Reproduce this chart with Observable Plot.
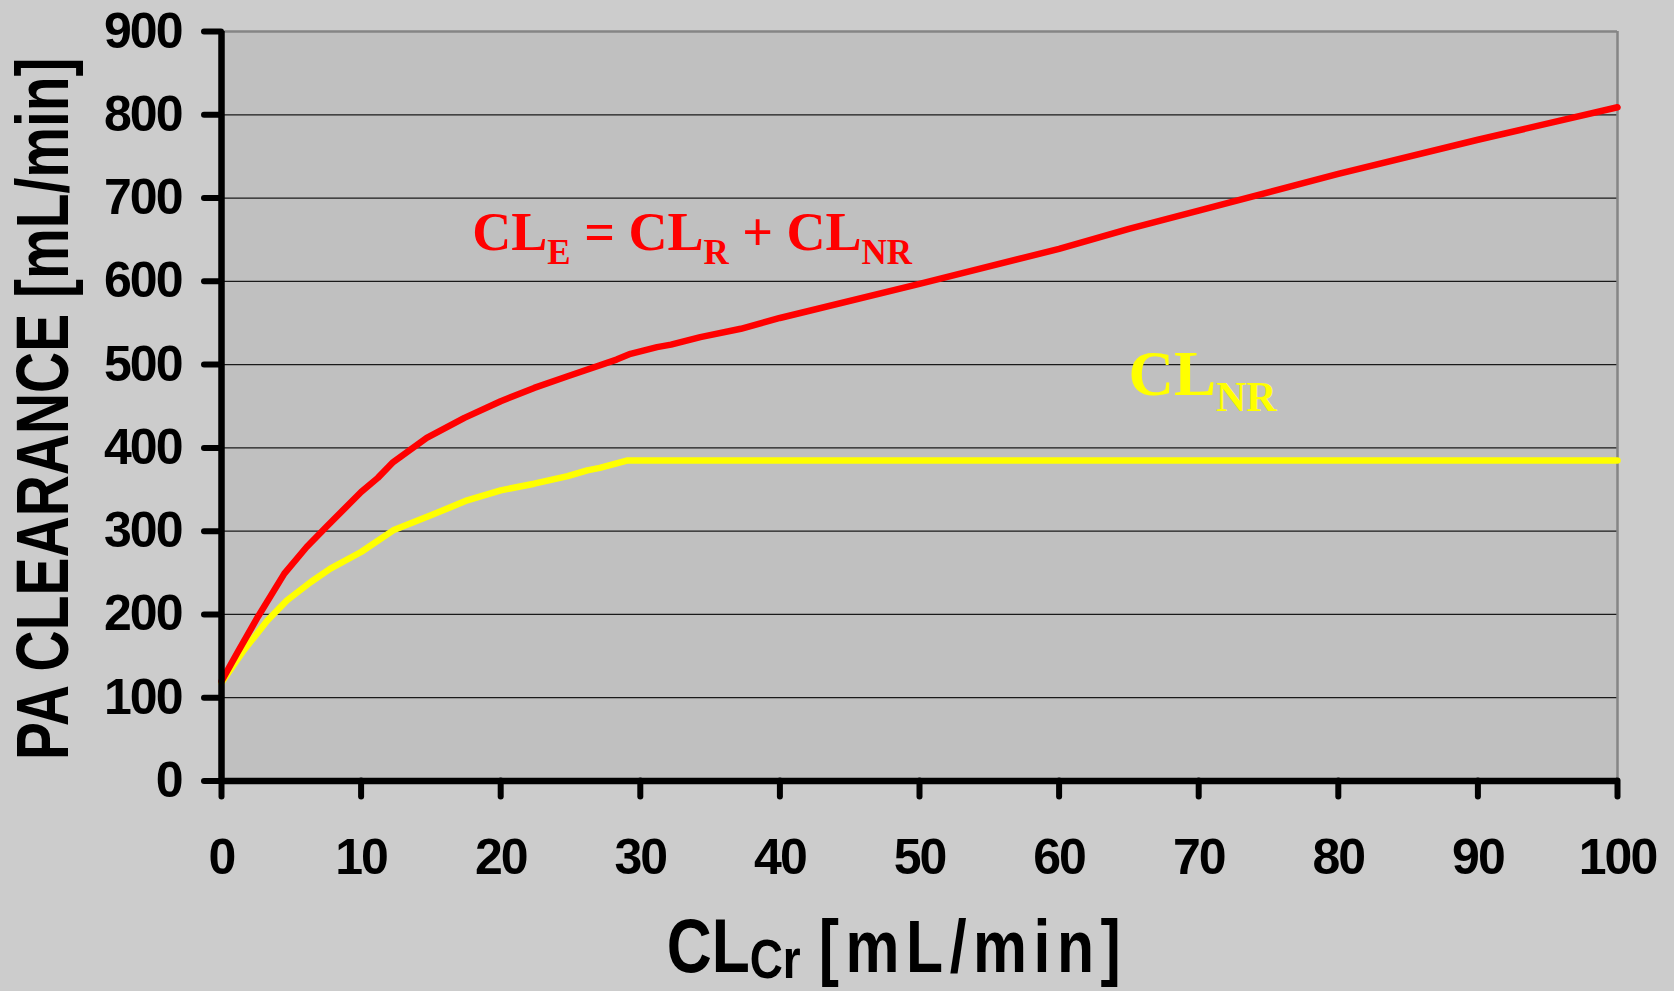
<!DOCTYPE html>
<html>
<head>
<meta charset="utf-8">
<script src="https://cdn.jsdelivr.net/npm/d3@7"></script>
<script src="https://cdn.jsdelivr.net/npm/@observablehq/plot@0.6"></script>
<style>
  html, body { margin: 0; padding: 0; background: #cccccc; overflow: hidden; }
  #chart svg { display: block; }
</style>
</head>
<body>
<div id="chart"></div>
<script>
// ---- data ----
const xTicks = [0, 10, 20, 30, 40, 50, 60, 70, 80, 90, 100];
const yTicks = [0, 100, 200, 300, 400, 500, 600, 700, 800, 900];
const gridValues = [100, 200, 300, 400, 500, 600, 700, 800];

// CL_E = CL_R + CL_NR (red)
const clCrE = [0, 1.1, 2.6, 4.5, 6.1, 7.5, 10, 11.2, 12.3, 14.7, 17.4, 20, 22.4, 24.8, 28.3, 29.3, 31.2, 32.2, 34.3, 37.2, 40, 50, 60, 65, 70, 80, 90, 100];
const clE   = [120, 153, 197, 249, 281, 305, 347, 364, 383, 412, 436, 456, 472, 486, 506, 513, 521, 524, 533, 543, 556, 597, 639, 663, 685, 729, 770, 809];

// CL_NR (yellow)
const clCrNR = [0, 1.6, 3.3, 4.7, 6.4, 7.8, 10, 12.3, 15, 17.6, 20, 22.4, 24.8, 26.2, 27.1, 29.1, 100];
const clNR   = [118, 157, 193, 217, 239, 255, 275, 301, 319, 337, 349, 357, 366, 373, 376, 385, 385];

const xTitle = {main: "CL", sub: "Cr", rest: "[mL/min]"};
const yTitle = "PA CLEARANCE [mL/min]";
const eqLabel = ["CL", "E", " = CL", "R", " + CL", "NR"];
const nrLabel = ["CL", "NR"];
const eqLabelAt = {x: 18, y: 637};
const nrLabelAt = {x: 65, y: 463};

const eData = clCrE.map((x, i) => ({x, y: clE[i]}));
const nrData = clCrNR.map((x, i) => ({x, y: clNR[i]}));

const chart = Plot.plot({
  width: 1674,
  height: 991,
  marginLeft: 221,
  marginRight: 57,
  marginTop: 31,
  marginBottom: 210.5,
  style: {
    background: "#cccccc",
    fontFamily: "'Liberation Sans', Arial, sans-serif",
    fontWeight: "bold",
    fontSize: "50px",
    letterSpacing: "-2px",
    color: "#000",
    overflow: "visible"
  },
  x: {domain: [0, 100]},
  y: {domain: [0, 900]},
  marks: [
    Plot.frame({fill: "#c0c0c0", stroke: "none"}),
    Plot.ruleY(gridValues, {stroke: "#1a1a1a", strokeWidth: 1.3}),
    Plot.ruleY([900], {stroke: "#858585", strokeWidth: 2.5}),
    Plot.ruleX([100], {stroke: "#858585", strokeWidth: 2.5}),
    Plot.line(nrData, {x: "x", y: "y", stroke: "#ffff00", strokeWidth: 6.5, strokeLinejoin: "round", strokeLinecap: "round"}),
    Plot.line(eData, {x: "x", y: "y", stroke: "#ff0000", strokeWidth: 6.5, strokeLinejoin: "round", strokeLinecap: "round"}),
    Plot.ruleY([0], {stroke: "#000", strokeWidth: 6.5}),
    Plot.ruleX([0], {stroke: "#000", strokeWidth: 6.5}),
    Plot.axisY(yTicks, {tickSize: 17, tickPadding: 23, strokeWidth: 6, strokeLinecap: "round", label: null, tickFormat: d => String(d)}),
    Plot.axisX(xTicks, {tickSize: 16, tickPadding: 41, strokeWidth: 6, strokeLinecap: "round", label: null, tickFormat: d => String(d)})
  ]
});
document.getElementById("chart").appendChild(chart);

const svg = d3.select(chart);
const xs = chart.scale("x"), ys = chart.scale("y");

// make sure axis ticks are thick with round caps
svg.selectAll("g[aria-label='x-axis tick'], g[aria-label='y-axis tick']")
  .attr("stroke-width", 6)
  .attr("stroke-linecap", "round")
  .selectAll("path")
  .attr("stroke-width", 6)
  .attr("stroke-linecap", "round");

function addLabel(parts, at, color, mainSize, subSize, shift) {
  const t = svg.append("text")
    .attr("x", xs.apply(at.x))
    .attr("y", ys.apply(at.y))
    .attr("fill", color)
    .attr("text-anchor", "start")
    .style("font-family", "'Liberation Serif', 'Times New Roman', serif")
    .style("font-weight", "bold")
    .style("letter-spacing", "0px")
    .style("white-space", "pre");
  parts.forEach((p, i) => {
    const isSub = i % 2 === 1;
    t.append("tspan")
      .attr("dy", i === 0 ? 0 : (isSub ? shift : -shift))
      .style("font-size", (isSub ? subSize : mainSize) + "px")
      .text(p);
  });
}
addLabel(eqLabel, eqLabelAt, "#ff0000", 54, 35, 14);
addLabel(nrLabel, nrLabelAt, "#ffff00", 63, 42, 16);

// x axis title
const xt = svg.append("text")
  .attr("transform", `translate(${(xs.apply(0) + xs.apply(100)) / 2 - 22},972) scale(0.82,1)`)
  .attr("text-anchor", "middle")
  .attr("fill", "#000")
  .style("font-family", "'Liberation Sans', Arial, sans-serif")
  .style("font-weight", "bold")
  .style("letter-spacing", "0px")
  .style("white-space", "pre");
xt.append("tspan").style("font-size", "76px").text(xTitle.main);
xt.append("tspan").attr("dy", 6).style("font-size", "56px").style("letter-spacing", "0px").text(xTitle.sub);
xt.append("tspan").attr("dy", -6).attr("dx", 22).style("font-size", "74px").style("letter-spacing", "8px").text(xTitle.rest);

// y axis title
svg.append("text")
  .attr("transform", `translate(68,${(ys.apply(0) + ys.apply(900)) / 2 + 3}) rotate(-90) scale(0.77,1)`)
  .attr("text-anchor", "middle")
  .attr("fill", "#000")
  .style("font-family", "'Liberation Sans', Arial, sans-serif")
  .style("font-weight", "bold")
  .style("font-size", "74px")
  .style("letter-spacing", "0px")
  .text(yTitle);
</script>
</body>
</html>
